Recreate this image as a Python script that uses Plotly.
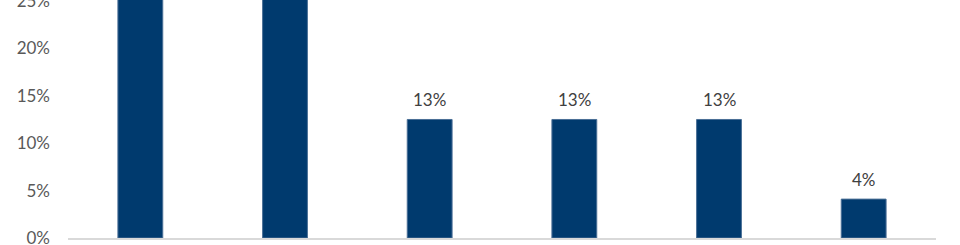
import plotly.graph_objects as go

categories = ["A", "B", "C", "D", "E", "F"]
values = [0.29, 0.29, 0.125, 0.125, 0.125, 0.041]
labels = ["", "", "13%", "13%", "13%", "4%"]
tick_vals = [0, 0.05, 0.10, 0.15, 0.20, 0.25]
tick_text = ["0%", "5%", "10%", "15%", "20%", "25%"]

fig = go.Figure(go.Bar(
    x=categories, y=values, width=0.31,
    marker=dict(color="#003A6E", line=dict(color="#4A6F96", width=1)),
))
for c, v, t in zip(categories, values, labels):
    if t:
        fig.add_annotation(x=c, y=v, text=t, showarrow=False, yanchor="bottom",
                           yshift=7, font=dict(family="Lato", size=17, color="#404040"))
fig.update_layout(
    width=960, height=245,
    margin=dict(l=68, r=24, t=0, b=7),
    plot_bgcolor="white", paper_bgcolor="white",
    showlegend=False,
)
fig.update_xaxes(showticklabels=False, showline=True, linecolor="#D9D9D9",
                 linewidth=1.5, ticks="", automargin=False)
fig.update_yaxes(range=[0, 0.251], tickvals=tick_vals, ticktext=tick_text,
                 showgrid=False, zeroline=False, showline=False, automargin=False,
                 tickfont=dict(family="Lato", size=17, color="#595959"),
                 ticklabelstandoff=17, ticklabeloverflow="allow")
fig.write_html("out.html")
